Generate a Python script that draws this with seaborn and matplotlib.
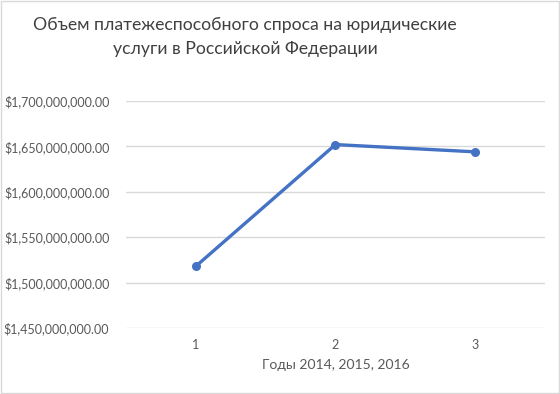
import matplotlib
matplotlib.use("Agg")
import matplotlib.pyplot as plt
import matplotlib.ticker as mticker
from matplotlib.patches import Rectangle
import seaborn as sns
import pandas as pd

periods = [1, 2, 3]
values = [1518000000, 1652000000, 1644000000]
title = "Объем платежеспособного спроса на юридические\nуслуги в Российской Федерации"
xlabel = "Годы 2014, 2015, 2016"

sns.set_theme(style="white")
plt.rcParams['font.family'] = ['Lato', 'DejaVu Sans']

df = pd.DataFrame({"period": periods, "value": values})

fig = plt.figure(figsize=(5.6, 3.94), dpi=100)
ax = fig.add_axes([0.225, 0.1675, 0.748, 0.5762])

sns.lineplot(data=df, x="period", y="value", ax=ax, color="#4472C4",
             linewidth=2.4, marker="o", markersize=6.5, markeredgewidth=0)

ax.set_xlim(0.5, 3.5)
ax.set_ylim(1.45e9, 1.70e9)
ax.set_yticks([1.45e9, 1.50e9, 1.55e9, 1.60e9, 1.65e9, 1.70e9])
ax.set_xticks(periods)
ax.yaxis.set_major_formatter(mticker.FuncFormatter(lambda v, p: f"${v:,.2f}"))
ax.grid(axis="y", color="#D9D9D9", linewidth=1)
ax.set_axisbelow(True)
for s in ax.spines.values():
    s.set_visible(False)
ax.tick_params(axis="both", length=0, labelsize=9, labelcolor="#595959", pad=8)
ax.tick_params(axis="y", pad=12)
ax.set_xlabel(xlabel, fontsize=10, color="#595959", labelpad=6)
ax.set_ylabel("")

fig.text(0.4375, 0.958, title, ha="center", va="top", fontsize=12.7,
         color="#404040", linespacing=1.65)

fig.patches.append(Rectangle((0.002, 0.003), 0.996, 0.994, transform=fig.transFigure,
                             fill=False, edgecolor="#D9D9D9", linewidth=1))

fig.savefig("out.png", dpi=100)
